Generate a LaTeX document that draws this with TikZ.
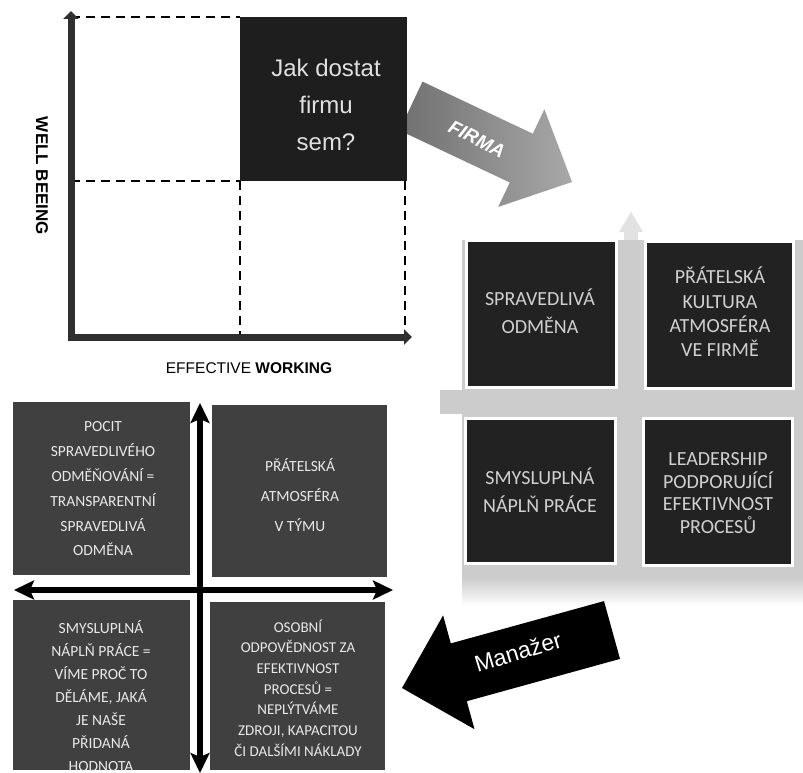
\documentclass[tikz,border=0pt]{standalone}
\usepackage{fontspec}
\setmainfont{Liberation Sans}
\newfontfamily\carl{Carlito}
\usetikzlibrary{arrows.meta}
\definecolor{goalfill}{HTML}{1E1E1E}
\definecolor{axiscol}{HTML}{2F2F2F}
\definecolor{qfill}{HTML}{404040}
\definecolor{rfill}{HTML}{222222}
\definecolor{rtext}{HTML}{D0D0D0}
\definecolor{qtext}{HTML}{E8E8E8}
\definecolor{bgray}{HTML}{CCCCCC}
\definecolor{faint}{HTML}{E2E2E2}
\definecolor{firmaL}{HTML}{707070}
\definecolor{firmaR}{HTML}{A8A8A8}
\begin{document}
\begin{tikzpicture}[x=1pt,y=-1pt,
  axisline/.style={line width=7pt,draw=axiscol,line cap=rect,-{Triangle[length=8pt,width=15pt]}},
  dashline/.style={line width=2.4pt,draw=black,dash pattern=on 9pt off 6pt},
  rbox/.style={fill=rfill,draw=white,line width=3pt,inner sep=0pt},
  qbox/.style={fill=qfill,draw=none,inner sep=0pt},
  rlabel/.style={text=rtext,align=center,font=\carl\fontsize{20}{#1}\selectfont},
  qlabel/.style 2 args={text=qtext,align=center,font=\carl\fontsize{#1}{#2}\selectfont},
  dbl/.style={line width=6pt,draw=black,{Stealth[length=20pt,width=19pt,inset=4pt]}-{Stealth[length=20pt,width=19pt,inset=4pt]}},
]
\useasboundingbox (0,0) rectangle (803,773);
\fill[white] (0,0) rectangle (803,773);

% ---------- FIRMA arrow (under the goal box)
\shade[left color=firmaL,right color=firmaR] (422.5,81.6) -- (532.8,133.7) -- (544.4,109.3) -- (572,182) -- (498.2,206.9) -- (509.8,182.5) -- (399.5,130.4) -- cycle;
\node[rotate=-27,text=white,font=\bfseries\itshape\fontsize{19}{19}\selectfont] (firma) at (477,139) {FIRMA};

% ---------- top chart
\node[fill=goalfill,minimum width=167,minimum height=164,inner sep=0pt] (goal) at (323.5,99) {};
\coordinate (O) at (71,337);
\coordinate (ytop) at (71,11);
\coordinate (xend) at (412,337);
\draw[dashline] (O |- goal.north) -- (goal.north west);
\draw[dashline] (O |- goal.south) -- (goal.south west);
\draw[dashline] (goal.south west) -- (goal.south west |- O);
\draw[dashline] ([xshift=-2pt]goal.south east) -- ([xshift=-2pt]goal.south east |- O);
\draw[axisline] (O) -- (ytop);
\draw[axisline] (O) -- (xend);
\node[text=white!88!black,align=center,font=\fontsize{24}{37}\selectfont] (goaltxt) at (326,105) {Jak dostat\\firmu\\sem?};
\node[rotate=-90,font=\bfseries\fontsize{17}{17}\selectfont] (wb) at (42,176) {WELL BEEING};
\node[font=\fontsize{15.5}{16}\selectfont] (ew) at (249,368) {EFFECTIVE \textbf{WORKING}};

% ---------- right grid
\fill[faint] (631,212) -- (643,232) -- (619,232) -- cycle;
\fill[faint] (624,232) rectangle (638,240);
\fill[bgray] (462,240) rectangle (803,578);
\shade[top color=bgray,bottom color=white] (462,578) rectangle (803,606);
\fill[bgray] (440,390) rectangle (462,414);
\node[rbox,minimum width=150,minimum height=147] (r1) at (541,314) {};
\node[rbox,minimum width=148,minimum height=147] (r2) at (719.5,314.5) {};
\node[rbox,minimum width=150,minimum height=145] (r3) at (540,490.5) {};
\node[rbox,minimum width=149,minimum height=147] (r4) at (717.5,491.5) {};
\node[rlabel=28] (r1t) at (540,311) {SPRAVEDLIVÁ\\ODMĚNA};
\node[rlabel=24.3] (r2t) at (720,312) {PŘÁTELSKÁ\\KULTURA\\ATMOSFÉRA\\VE FIRMĚ};
\node[rlabel=28] (r3t) at (540,490) {SMYSLUPLNÁ\\NÁPLŇ PRÁCE};
\node[rlabel=22.7] (r4t) at (718,493) {LEADERSHIP\\PODPORUJÍCÍ\\EFEKTIVNOST\\PROCESŮ};

% ---------- Manazer arrow
\fill[black] (604,601.1) -- (450.8,643.4) -- (443.1,615.4) -- (402,688) -- (474.5,729.2) -- (466.8,701.2) -- (620,658.9) -- cycle;
\node[rotate=17,text=white,font=\fontsize{23}{23}\selectfont] (man) at (518,652) {Manažer};

% ---------- bottom-left grid
\node[qbox,minimum width=177,minimum height=173] (q1) at (101.5,488.5) {};
\node[qbox,minimum width=175,minimum height=172] (q2) at (299.5,491) {};
\node[qbox,minimum width=177,minimum height=170] (q3) at (101.5,685) {};
\node[qbox,minimum width=175,minimum height=168] (q4) at (297.5,686) {};
\node[qlabel={15.5}{24.8}] (q1t) at (103,489) {POCIT\\SPRAVEDLIVÉHO\\ODMĚŇOVÁNÍ =\\TRANSPARENTNÍ\\SPRAVEDLIVÁ\\ODMĚNA};
\node[qlabel={15.5}{30}] (q2t) at (300,495) {PŘÁTELSKÁ\\ATMOSFÉRA\\V TÝMU};
\begin{scope}
\clip (q3.north west) rectangle (q3.south east);
\node[qlabel={15.5}{23}] (q3t) at (101,696) {SMYSLUPLNÁ\\NÁPLŇ PRÁCE =\\VÍME PROČ TO\\DĚLÁME, JAKÁ\\JE NAŠE\\PŘIDANÁ\\HODNOTA};
\end{scope}
\node[qlabel={15}{20.7}] (q4t) at (298,688) {OSOBNÍ\\ODPOVĚDNOST ZA\\EFEKTIVNOST\\PROCESŮ =\\NEPLÝTVÁME\\ZDROJI, KAPACITOU\\ČI DALŠÍMI NÁKLADY};
\coordinate (hl) at (14,590);
\coordinate (hr) at (393,590);
\coordinate (vt) at (200,403);
\coordinate (vb) at (200,773);
\draw[dbl] (hl) -- (hr);
\draw[dbl] (vt) -- (vb);
\end{tikzpicture}
\end{document}
